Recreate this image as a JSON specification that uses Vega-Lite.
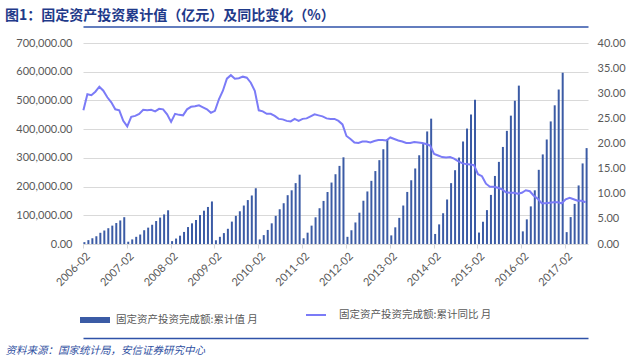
{
  "$schema": "https://vega.github.io/schema/vega-lite/v6.json",
  "width": 505,
  "height": 201,
  "autosize": {"type": "none"},
  "padding": {"left": 83, "top": 43, "right": 52, "bottom": 118},
  "background": "white",
  "title": {
    "text": "图1：固定资产投资累计值（亿元）及同比变化（%）",
    "anchor": "start",
    "frame": "group",
    "dx": -78,
    "offset": 4,
    "font": "Noto Sans CJK SC",
    "fontSize": 14,
    "fontWeight": "bold",
    "color": "#1f3a8a"
  },
  "config": {"view": {"stroke": null}},
  "data": {
    "values": [
      {"m": "2006-02", "v": 6500, "g": 26.6}, {"m": "2006-03", "v": 13500, "g": 29.8}, {"m": "2006-04", "v": 20000, "g": 29.6}, {"m": "2006-05", "v": 27000, "g": 30.3}, {"m": "2006-06", "v": 39000, "g": 31.3}, {"m": "2006-07", "v": 47000, "g": 30.5}, {"m": "2006-08", "v": 55000, "g": 29.2}, {"m": "2006-09", "v": 64000, "g": 28.2}, {"m": "2006-10", "v": 73000, "g": 26.8}, {"m": "2006-11", "v": 82000, "g": 26.6}, {"m": "2006-12", "v": 93369, "g": 24.5},
      {"m": "2007-02", "v": 8000, "g": 23.4}, {"m": "2007-03", "v": 16000, "g": 25.3}, {"m": "2007-04", "v": 25000, "g": 25.5}, {"m": "2007-05", "v": 33000, "g": 25.9}, {"m": "2007-06", "v": 48000, "g": 26.7}, {"m": "2007-07", "v": 57000, "g": 26.6}, {"m": "2007-08", "v": 67000, "g": 26.7}, {"m": "2007-09", "v": 80000, "g": 26.4}, {"m": "2007-10", "v": 92000, "g": 26.9}, {"m": "2007-11", "v": 103000, "g": 26.8}, {"m": "2007-12", "v": 117414, "g": 25.8},
      {"m": "2008-02", "v": 10000, "g": 24.3}, {"m": "2008-03", "v": 19000, "g": 25.9}, {"m": "2008-04", "v": 29000, "g": 25.7}, {"m": "2008-05", "v": 42000, "g": 25.6}, {"m": "2008-06", "v": 59000, "g": 26.8}, {"m": "2008-07", "v": 72000, "g": 27.3}, {"m": "2008-08", "v": 84000, "g": 27.4}, {"m": "2008-09", "v": 101000, "g": 27.6}, {"m": "2008-10", "v": 116000, "g": 27.2}, {"m": "2008-11", "v": 129000, "g": 26.8}, {"m": "2008-12", "v": 148167, "g": 26.1},
      {"m": "2009-02", "v": 13000, "g": 26.5}, {"m": "2009-03", "v": 25000, "g": 28.8}, {"m": "2009-04", "v": 38000, "g": 30.5}, {"m": "2009-05", "v": 53000, "g": 32.9}, {"m": "2009-06", "v": 78000, "g": 33.6}, {"m": "2009-07", "v": 98000, "g": 32.9}, {"m": "2009-08", "v": 114000, "g": 33.0}, {"m": "2009-09", "v": 134000, "g": 33.3}, {"m": "2009-10", "v": 153000, "g": 33.1}, {"m": "2009-11", "v": 169000, "g": 32.1}, {"m": "2009-12", "v": 194139, "g": 30.5},
      {"m": "2010-02", "v": 16000, "g": 26.6}, {"m": "2010-03", "v": 31000, "g": 26.4}, {"m": "2010-04", "v": 49000, "g": 25.9}, {"m": "2010-05", "v": 72000, "g": 25.9}, {"m": "2010-06", "v": 98000, "g": 25.5}, {"m": "2010-07", "v": 121000, "g": 24.9}, {"m": "2010-08", "v": 142000, "g": 24.8}, {"m": "2010-09", "v": 170000, "g": 24.5}, {"m": "2010-10", "v": 187000, "g": 24.4}, {"m": "2010-11", "v": 212000, "g": 24.9}, {"m": "2010-12", "v": 241415, "g": 24.5},
      {"m": "2011-02", "v": 20000, "g": 24.9}, {"m": "2011-03", "v": 39465, "g": 25.0}, {"m": "2011-04", "v": 64000, "g": 25.4}, {"m": "2011-05", "v": 93000, "g": 25.8}, {"m": "2011-06", "v": 124567, "g": 25.6}, {"m": "2011-07", "v": 150000, "g": 25.4}, {"m": "2011-08", "v": 181000, "g": 25.0}, {"m": "2011-09", "v": 214000, "g": 24.9}, {"m": "2011-10", "v": 243000, "g": 24.9}, {"m": "2011-11", "v": 272000, "g": 24.5}, {"m": "2011-12", "v": 301933, "g": 23.8},
      {"m": "2012-02", "v": 25000, "g": 21.5}, {"m": "2012-03", "v": 47866, "g": 20.9}, {"m": "2012-04", "v": 75000, "g": 20.2}, {"m": "2012-05", "v": 109000, "g": 20.1}, {"m": "2012-06", "v": 150681, "g": 20.4}, {"m": "2012-07", "v": 183000, "g": 20.4}, {"m": "2012-08", "v": 220000, "g": 20.2}, {"m": "2012-09", "v": 254000, "g": 20.5}, {"m": "2012-10", "v": 292000, "g": 20.7}, {"m": "2012-11", "v": 330000, "g": 20.7}, {"m": "2012-12", "v": 364835, "g": 20.6},
      {"m": "2013-02", "v": 30000, "g": 21.2}, {"m": "2013-03", "v": 58092, "g": 20.9}, {"m": "2013-04", "v": 91000, "g": 20.6}, {"m": "2013-05", "v": 134000, "g": 20.4}, {"m": "2013-06", "v": 181318, "g": 20.1}, {"m": "2013-07", "v": 222000, "g": 20.1}, {"m": "2013-08", "v": 263000, "g": 20.3}, {"m": "2013-09", "v": 309000, "g": 20.2}, {"m": "2013-10", "v": 348000, "g": 20.1}, {"m": "2013-11", "v": 392000, "g": 19.9}, {"m": "2013-12", "v": 436528, "g": 19.6},
      {"m": "2014-02", "v": 35000, "g": 17.9}, {"m": "2014-03", "v": 68322, "g": 17.6}, {"m": "2014-04", "v": 107136, "g": 17.3}, {"m": "2014-05", "v": 155000, "g": 17.2}, {"m": "2014-06", "v": 212000, "g": 17.3}, {"m": "2014-07", "v": 257000, "g": 17.0}, {"m": "2014-08", "v": 301000, "g": 16.5}, {"m": "2014-09", "v": 357000, "g": 16.1}, {"m": "2014-10", "v": 402000, "g": 15.9}, {"m": "2014-11", "v": 451000, "g": 15.8}, {"m": "2014-12", "v": 502005, "g": 15.7},
      {"m": "2015-02", "v": 39883, "g": 13.9}, {"m": "2015-03", "v": 77511, "g": 13.5}, {"m": "2015-04", "v": 118000, "g": 12.0}, {"m": "2015-05", "v": 171000, "g": 11.4}, {"m": "2015-06", "v": 237000, "g": 11.4}, {"m": "2015-07", "v": 286000, "g": 11.2}, {"m": "2015-08", "v": 338000, "g": 10.9}, {"m": "2015-09", "v": 394000, "g": 10.3}, {"m": "2015-10", "v": 447000, "g": 10.2}, {"m": "2015-11", "v": 499000, "g": 10.2}, {"m": "2015-12", "v": 551590, "g": 10.0},
      {"m": "2016-02", "v": 44000, "g": 10.2}, {"m": "2016-03", "v": 85800, "g": 10.7}, {"m": "2016-04", "v": 131000, "g": 10.5}, {"m": "2016-05", "v": 187000, "g": 9.6}, {"m": "2016-06", "v": 258360, "g": 9.0}, {"m": "2016-07", "v": 312000, "g": 8.1}, {"m": "2016-08", "v": 364000, "g": 8.1}, {"m": "2016-09", "v": 426906, "g": 8.2}, {"m": "2016-10", "v": 483000, "g": 8.3}, {"m": "2016-11", "v": 538000, "g": 8.3}, {"m": "2016-12", "v": 596501, "g": 8.1},
      {"m": "2017-02", "v": 41378, "g": 8.9}, {"m": "2017-03", "v": 93777, "g": 9.2}, {"m": "2017-04", "v": 139670, "g": 8.9}, {"m": "2017-05", "v": 203970, "g": 8.6}, {"m": "2017-06", "v": 280605, "g": 8.6}, {"m": "2017-07", "v": 334000, "g": 8.3}
    ]
  },
  "layer": [
    {
      "mark": {"type": "bar"},
      "encoding": {
        "x": {
          "field": "m", "type": "ordinal", "sort": null,
          "scale": {"paddingInner": 0.5, "paddingOuter": 0.1},
          "axis": {
            "values": ["2006-02", "2007-02", "2008-02", "2009-02", "2010-02", "2011-02", "2012-02", "2013-02", "2014-02", "2015-02", "2016-02", "2017-02"],
            "bandPosition": 0,
            "labelAngle": -45,
            "labelFont": "Lato",
            "labelFontSize": 11,
            "labelColor": "#595959",
            "labelPadding": 2,
            "domainColor": "#d9d9d9",
            "tickColor": "#d9d9d9",
            "tickSize": 4,
            "grid": false,
            "title": "资料来源：国家统计局，安信证券研究中心",
            "titleX": -78,
            "titleY": 106,
            "titleAlign": "left",
            "titleAnchor": "start",
            "titleBaseline": "middle",
            "titleFont": "Noto Sans CJK SC",
            "titleFontSize": 10.5,
            "titleFontStyle": "italic",
            "titleFontWeight": "normal",
            "titleColor": "#2f4f9f"
          }
        },
        "y": {
          "field": "v", "type": "quantitative",
          "scale": {"domain": [0, 700000], "nice": false},
          "axis": {
            "values": [0, 100000, 200000, 300000, 400000, 500000, 600000, 700000],
            "format": ",.2f",
            "title": null,
            "domain": false,
            "ticks": false,
            "labelFont": "Lato",
            "labelFontSize": 11,
            "labelColor": "#595959",
            "labelPadding": 11,
            "grid": true,
            "gridColor": "#d9d9d9"
          }
        },
        "color": {
          "datum": "固定资产投资完成额:累计值 月",
          "scale": {"range": ["#3b5ba5"]},
          "legend": {
            "orient": "none",
            "legendX": -4,
            "legendY": 261,
            "direction": "horizontal",
            "title": null,
            "padding": 0,
            "symbolType": "M-1,-0.2H1V0.2H-1Z",
            "symbolSize": 900,
            "labelOffset": 5,
            "labelFont": "Noto Sans CJK SC",
            "labelFontSize": 10.5,
            "labelColor": "#595959",
            "encode": {"symbols": {"update": {"fill": {"value": "#000080"}, "stroke": {"value": "transparent"}}}}
          }
        }
      }
    },
    {
      "mark": {"type": "line", "strokeWidth": 2},
      "encoding": {
        "x": {
          "field": "m", "type": "ordinal", "sort": null, "bandPosition": 0,
          "axis": {
            "orient": "top",
            "offset": 16.5,
            "labels": false,
            "ticks": false,
            "grid": false,
            "title": null,
            "domainColor": "#2f52a8",
            "domainWidth": 1.5
          }
        },
        "y": {
          "field": "g", "type": "quantitative",
          "scale": {"domain": [0, 40], "nice": false},
          "axis": {
            "orient": "right",
            "values": [0, 5, 10, 15, 20, 25, 30, 35, 40],
            "format": ".2f",
            "title": null,
            "domain": false,
            "ticks": false,
            "grid": false,
            "labelFont": "Lato",
            "labelFontSize": 11,
            "labelColor": "#595959",
            "labelPadding": 9
          }
        },
        "stroke": {
          "datum": "固定资产投资完成额:累计同比 月",
          "scale": {"range": ["#7b7bf7"]},
          "legend": {
            "orient": "none",
            "legendX": 222,
            "legendY": 261,
            "direction": "horizontal",
            "title": null,
            "padding": 0,
            "symbolType": "stroke",
            "symbolSize": 400,
            "symbolStrokeWidth": 2,
            "labelOffset": 12,
            "labelFont": "Noto Sans CJK SC",
            "labelFontSize": 10.5,
            "labelColor": "#595959"
          }
        }
      }
    },
    {
      "mark": {"type": "line", "strokeOpacity": 0},
      "encoding": {
        "x": {
          "field": "m", "type": "ordinal", "sort": null,
          "axis": {
            "orient": "bottom",
            "offset": 94,
            "labels": false,
            "ticks": false,
            "grid": false,
            "title": null,
            "domainColor": "#2f52a8",
            "domainWidth": 1.5
          }
        },
        "y": {"field": "g", "type": "quantitative", "axis": null}
      }
    }
  ],
  "resolve": {"scale": {"y": "independent"}, "axis": {"x": "independent"}}
}
